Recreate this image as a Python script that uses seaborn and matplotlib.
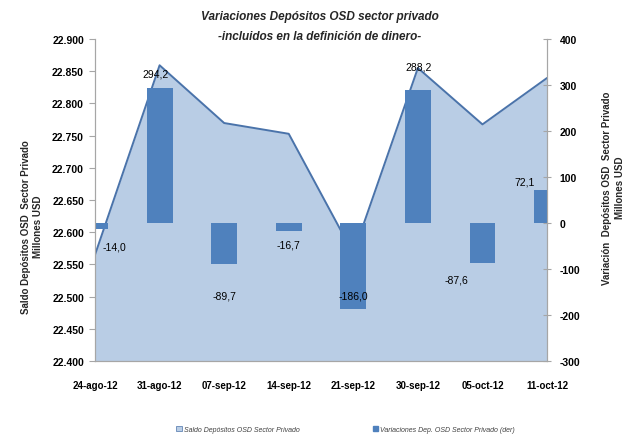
import numpy as np
import pandas as pd
import seaborn as sns
import matplotlib.pyplot as plt
from matplotlib.patches import Patch
from matplotlib.ticker import FuncFormatter

# datos
fechas = ['24-ago-12', '31-ago-12', '07-sep-12', '14-sep-12',
          '21-sep-12', '30-sep-12', '05-oct-12', '11-oct-12']
saldo = [22565.0, 22859.2, 22769.5, 22752.8, 22566.8, 22855.0, 22767.4, 22839.5]
variacion = [-14.0, 294.2, -89.7, -16.7, -186.0, 288.2, -87.6, 72.1]
etiquetas = ['-14,0', '294,2', '-89,7', '-16,7', '-186,0', '288,2', '-87,6', '72,1']

# desplazamiento de las etiquetas (pixeles) respecto al extremo de la barra
desp_x = [19, -4, 0, 0, 0, 1, -26, -22]
desp_y = [-17, 14, -31, -14, 13, 24, -16, 8]

sns.set_style("white")
plt.rcParams['font.family'] = ['Liberation Sans', 'DejaVu Sans']

c_area = '#b9cde5'
c_linea = '#4a73aa'
c_barra = '#4f81bd'
c_eje = '#a6a6a6'

df = pd.DataFrame({'pos': np.arange(len(fechas)), 'fecha': fechas,
                   'saldo': saldo, 'variacion': variacion})

fig = plt.figure(figsize=(6.39, 4.39), dpi=100)
ax = fig.add_axes([0.1487, 0.1754, 0.7074, 0.7335])
ax2 = ax.twinx()

# area (eje izquierdo)
ax.fill_between(df['pos'], 22400, df['saldo'], color=c_area, lw=0)
sns.lineplot(data=df, x='pos', y='saldo', ax=ax, color=c_linea, lw=1.4)
ax.set_ylim(22400, 22900)
ax.set_yticks(np.arange(22400, 22901, 50))
ax.yaxis.set_major_formatter(FuncFormatter(lambda v, p: f"{v/1000:.3f}"))

# barras (eje derecho)
sns.barplot(data=df, x='pos', y='variacion', ax=ax2, color=c_barra,
            width=0.4, saturation=1, native_scale=True, linewidth=0)
ax2.set_ylim(-300, 400)
ax2.set_yticks(np.arange(-300, 401, 100))
ax2.yaxis.set_major_formatter(FuncFormatter(lambda v, p: f"{v:.0f}".replace('\u2212', '-')))

for i, v in enumerate(variacion):
    ax2.annotate(etiquetas[i], xy=(i, v), xytext=(desp_x[i], desp_y[i]),
                 textcoords='offset pixels', ha='center', va='center',
                 fontsize=7.5, color='black')

ax.set_xlim(0, 7)
ax2.set_xlim(0, 7)
ax.set_xticks(df['pos'])
ax.set_xticklabels(fechas, fontsize=7, fontweight='bold')
ax.tick_params(axis='x', pad=10)

for a in (ax, ax2):
    for s in a.spines.values():
        s.set_color(c_eje)
    a.spines['top'].set_visible(False)
    a.tick_params(colors=c_eje, labelcolor='black', length=4, width=0.8)
    a.set_xlabel('')
for lab in ax.get_yticklabels() + ax2.get_yticklabels():
    lab.set_fontweight('bold')
    lab.set_fontsize(7.5)
ax.tick_params(axis='y', pad=4)
ax2.tick_params(axis='y', pad=6, direction='inout', length=6)

ax.set_ylabel('Saldo Depósitos OSD  Sector Privado\nMillones USD',
              fontsize=7, fontweight='bold', linespacing=1.3)
ax.yaxis.set_label_coords(-0.115, 0.42)
ax2.set_ylabel('Variación  Depósitos OSD  Sector Privado\nMillones USD',
               fontsize=7, fontweight='bold', linespacing=1.3)
ax2.yaxis.set_label_coords(1.122, 0.54)

fig.suptitle('Variaciones Depósitos OSD sector privado\n-incluidos en la definición de dinero-',
             x=0.5, y=0.975, fontsize=8.5, fontweight='bold', style='italic',
             linespacing=1.9)

handles = [Patch(facecolor=c_area, edgecolor=c_linea, lw=0.5),
           Patch(facecolor=c_barra, edgecolor=c_barra)]
fig.legend(handles, ['Saldo Depósitos OSD Sector Privado',
                     'Variaciones Dep. OSD Sector Privado (der)'],
           loc='lower center', bbox_to_anchor=(0.541, -0.002), ncol=2, frameon=False,
           prop={'size': 5, 'style': 'italic'}, labelcolor='#404040',
           handlelength=0.8, handleheight=0.8, handletextpad=0.3, columnspacing=10.5)

fig.savefig('out.png', dpi=100)
